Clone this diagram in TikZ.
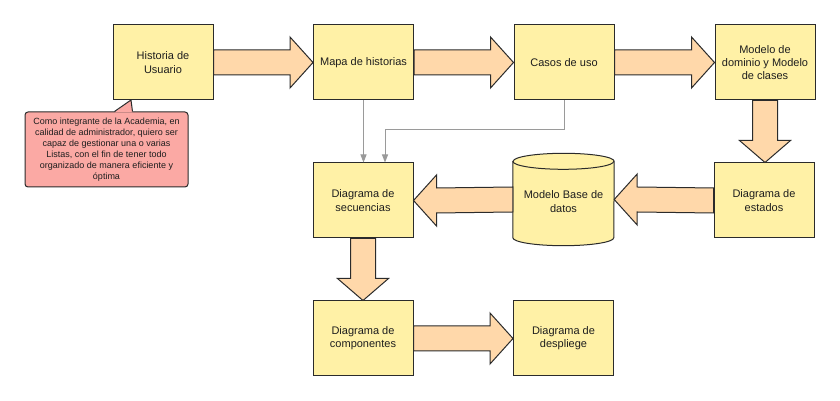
\documentclass[tikz,border=0pt]{standalone}
\usepackage{fontspec}
\setmainfont{Liberation Sans}
\usetikzlibrary{calc,arrows.meta}
\definecolor{boxfill}{HTML}{FFF1A6}
\definecolor{arrfill}{HTML}{FFD8AA}
\definecolor{callfill}{HTML}{FBA9A4}
\definecolor{edge}{HTML}{2B2B2B}
\definecolor{txt}{HTML}{1E1E1E}
\definecolor{conn}{HTML}{9A9A9A}
\tikzset{
  stepbox/.style={draw=edge, line width=1pt, fill=boxfill, minimum width=100pt, minimum height=75pt,
    align=center, inner sep=0pt, text=txt, font=\fontsize{11}{13.3}\selectfont},
  barrow/.style={draw=edge, line width=1pt, fill=arrfill, line join=miter},
  thin conn/.style={draw=conn, line width=1pt, -{Triangle[width=6pt,length=8pt]}},
  callbox/.style={draw=edge, line width=1pt, fill=callfill, rounded corners=3pt, minimum width=163pt,
    minimum height=75pt, align=center, inner sep=0pt, text=txt, font=\fontsize{9}{11}\selectfont},
}
% right-pointing block arrow
\newcommand{\barrowR}[2]{%
  \filldraw[barrow] ($(#1.east)+(0,12.5)$) -- ($(#2.west)+(-23,12.5)$) -- ($(#2.west)+(-23,25.5)$)
    -- (#2.west) -- ($(#2.west)+(-23,-25.5)$) -- ($(#2.west)+(-23,-12.5)$) -- ($(#1.east)+(0,-12.5)$) -- cycle;}
% left-pointing block arrow
\newcommand{\barrowL}[2]{%
  \filldraw[barrow] ($(#1.west)+(0,12.5)$) -- ($(#2.east)+(23,12.5)$) -- ($(#2.east)+(23,25.5)$)
    -- (#2.east) -- ($(#2.east)+(23,-25.5)$) -- ($(#2.east)+(23,-12.5)$) -- ($(#1.west)+(0,-12.5)$) -- cycle;}
% down-pointing block arrow
\newcommand{\barrowD}[2]{%
  \filldraw[barrow] ($(#1.south)+(-12.5,0)$) -- ($(#1.south |- #2.north)+(-12.5,22)$) -- ($(#1.south |- #2.north)+(-25.5,22)$)
    -- (#1.south |- #2.north) -- ($(#1.south |- #2.north)+(25.5,22)$) -- ($(#1.south |- #2.north)+(12.5,22)$) -- ($(#1.south)+(12.5,0)$) -- cycle;}
\begin{document}
\begin{tikzpicture}[x=1pt,y=1pt]
\useasboundingbox[fill=white] (0,0) rectangle (840,401);

\node[stepbox] (hu) at (163,338.5) {Historia de\\Usuario};
\node[stepbox] (mh) at (363.5,338.5) {Mapa de historias};
\node[stepbox] (cu) at (564,338.5) {Casos de uso};
\node[stepbox] (md) at (765,338.5) {Modelo de\\dominio y Modelo\\de clases};
\node[stepbox] (ds) at (363,200.5) {Diagrama de\\secuencias};
\node[stepbox] (de) at (764,200.5) {Diagrama de\\estados};
\node[stepbox] (dc) at (363,62.5) {Diagrama de\\componentes};
\node[stepbox] (dd) at (563.5,62.5) {Diagrama de\\despliege};

% database cylinder
\node[minimum width=101pt, minimum height=92pt, inner sep=0pt] (db) at (563.5,201.5) {};
\filldraw[draw=edge, line width=1pt, fill=boxfill]
  ($(db.north west)+(0,-8)$) -- ($(db.south west)+(0,8)$)
  arc[start angle=180, end angle=360, x radius=50.5, y radius=8]
  -- ($(db.north east)+(0,-8)$)
  arc[start angle=0, end angle=180, x radius=50.5, y radius=8] -- cycle;
\draw[draw=edge, line width=1pt] ($(db.north west)+(0,-8)$)
  arc[start angle=180, end angle=360, x radius=50.5, y radius=8];
\node[align=center, inner sep=0pt, text=txt, font=\fontsize{11}{13.3}\selectfont]
  (dbt) at ($(db.center)+(0,-2)$) {Modelo Base de\\datos};

% block arrows
\barrowR{hu}{mh}
\barrowR{mh}{cu}
\barrowR{cu}{md}
\barrowD{md}{de}
\barrowL{de}{db}
\barrowL{db}{ds}
\barrowD{ds}{dc}
\barrowR{dc}{dd}

% thin grey connectors
\coordinate (bend) at ($(ds.north)+(22,33)$);
\draw[thin conn] (mh.south) -- (mh.south |- ds.north);
\draw[thin conn] (cu.south) -- (cu.south |- bend) -- (bend) -- (bend |- ds.north);

% callout
\node[callbox] (call) at (106.5,251.5) {Como integrante de la Academia, en\\calidad de administrador, quiero ser\\capaz de gestionar una o varias\\Listas, con el fin de tener todo\\organizado de manera eficiente y\\óptima};
\coordinate (tip) at (131,301);
\fill[callfill] ($(call.north west)+(90,-1)$) -- (tip) -- ($(call.north west)+(108,-1)$) -- cycle;
\draw[draw=edge, line width=1pt, line join=miter] ($(call.north west)+(90,0)$) -- (tip) -- ($(call.north west)+(108,0)$);
\end{tikzpicture}
\end{document}
